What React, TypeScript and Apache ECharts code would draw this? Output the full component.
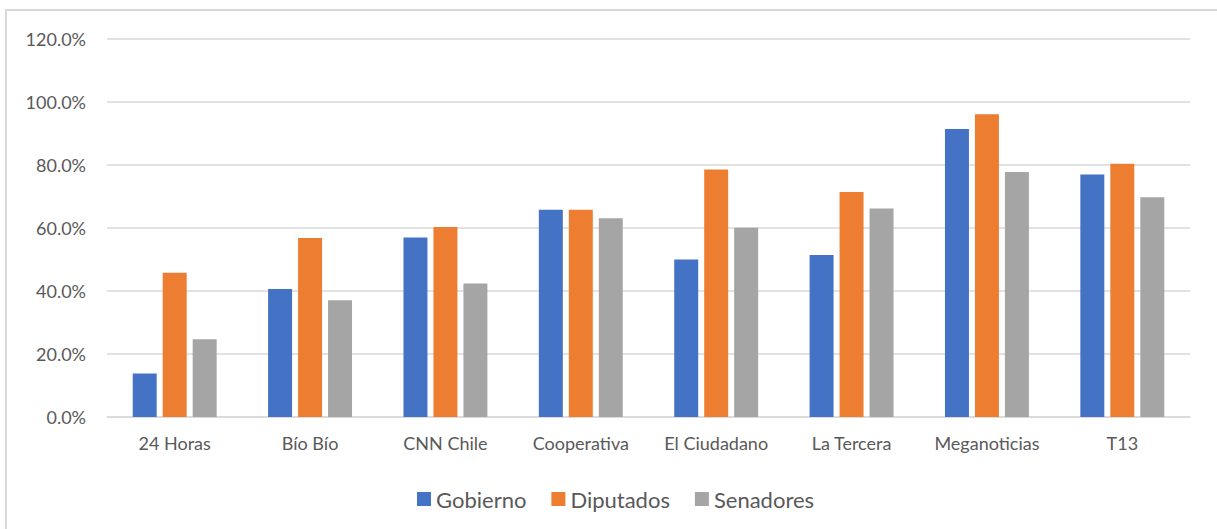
import React, { useEffect, useRef } from "react";
import * as echarts from "echarts";

const categories = ["24 Horas", "Bío Bío", "CNN Chile", "Cooperativa", "El Ciudadano", "La Tercera", "Meganoticias", "T13"];
const gobierno = [13.8, 40.6, 57.0, 65.8, 50.0, 51.4, 91.4, 77.0];
const diputados = [45.8, 56.8, 60.3, 65.8, 78.6, 71.4, 96.1, 80.4];
const senadores = [24.7, 37.1, 42.4, 63.1, 60.1, 66.2, 77.8, 69.8];
const seriesNames = ["Gobierno", "Diputados", "Senadores"];
const colors = ["#4472C4", "#ED7D31", "#A5A5A5"];

export default function App() {
  const ref = useRef<HTMLDivElement>(null);
  useEffect(() => {
    if (!ref.current) return;
    const chart = echarts.init(ref.current, null, { renderer: "svg" });
    const font = "Lato, 'Open Sans', sans-serif";
    const data = [gobierno, diputados, senadores];
    chart.setOption({
      animation: false,
      backgroundColor: "#ffffff",
      color: colors,
      textStyle: { fontFamily: font },
      graphic: [
        {
          type: "rect",
          shape: { x: 6, y: 10, width: 1300, height: 600 },
          style: { fill: "none", stroke: "#d9d9d9", lineWidth: 2 },
          silent: true,
        },
      ],
      grid: { left: 107, right: 27, top: 39, bottom: 112, containLabel: false },
      legend: {
        left: 412,
        top: 483,
        itemWidth: 14,
        itemHeight: 14,
        itemGap: 25,
        icon: "rect",
        textStyle: { fontSize: 22, color: "#595959", fontFamily: font },
        data: seriesNames,
      },
      xAxis: {
        type: "category",
        data: categories,
        axisLine: { show: true, lineStyle: { color: "#d9d9d9", width: 1.5 } },
        axisTick: { show: false },
        axisLabel: { color: "#595959", fontSize: 18, margin: 17, fontFamily: font, interval: 0 },
      },
      yAxis: {
        type: "value",
        min: 0,
        max: 120,
        interval: 20,
        axisLine: { show: false },
        axisTick: { show: false },
        splitLine: { lineStyle: { color: "#d9d9d9", width: 1.5 } },
        axisLabel: {
          color: "#595959",
          fontSize: 18,
          margin: 21,
          fontFamily: font,
          formatter: (v: number) => v.toFixed(1) + "%",
        },
      },
      series: seriesNames.map((name, i) => ({
        name,
        type: "bar",
        data: data[i],
        barGap: "25%",
        barCategoryGap: "38%",
        itemStyle: { color: colors[i] },
      })),
    });
    return () => chart.dispose();
  }, []);
  return (
    <div
      ref={ref}
      style={{ position: "absolute", left: 0, top: 0, width: 1217, height: 529 }}
    />
  );
}
